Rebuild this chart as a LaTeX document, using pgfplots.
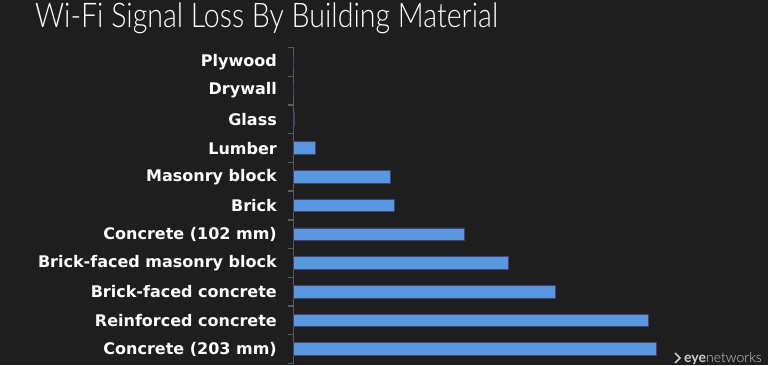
\documentclass[border=0pt]{standalone}
\usepackage{pgfplots}
\pgfplotsset{compat=1.18}
\usepackage{fontspec}
\usepackage{graphicx}
\setmainfont{DejaVu Sans}
\newfontfamily\titlefont{Lato Light}
\newfontfamily\logofont{Lato}
\definecolor{bg}{HTML}{1E1E1E}
\definecolor{barfill}{HTML}{5897E2}
\definecolor{bardraw}{HTML}{4A3F6E}
\definecolor{axisgray}{HTML}{5C5C5C}
\definecolor{logogray}{HTML}{D0D0D0}
\begin{document}
\begin{tikzpicture}
\fill[bg] (0pt,0pt) rectangle (768pt,365pt);
\node[anchor=base west, text=white, inner sep=0pt] at (35pt,337pt) {\titlefont\fontsize{34}{34}\selectfont\scalebox{0.84}[1]{Wi-Fi Signal Loss By Building Material}};
\begin{axis}[
  at={(293.5pt,1.5pt)}, anchor=south west,
  scale only axis, width=420pt, height=316pt,
  xmin=0, xmax=420, ymin=-0.5, ymax=10.5, y dir=reverse,
  axis line style={draw=none},
  xtick=\empty,
  ytick={0,1,2,3,4,5,6,7,8,9,10},
  yticklabels={Plywood, Drywall, Glass, Lumber, Masonry block, Brick, Concrete (102 mm), Brick-faced masonry block, Brick-faced concrete, Reinforced concrete, Concrete (203 mm)},
  ytick pos=left,
  major tick length=0pt,
  yticklabel style={font=\bfseries\fontsize{16}{16}\selectfont, text=white, inner sep=0pt, xshift=-16.5pt},
  clip=false,
]
\draw[axisgray, line width=1.3pt] (axis cs:0,-0.5) -- (axis cs:0,10.5);
\pgfplotsinvokeforeach{-0.5,0.5,1.5,2.5,3.5,4.5,5.5,6.5,7.5,8.5,9.5,10.5}{
  \draw[axisgray, line width=1.3pt] (axis cs:0,#1) -- ++(-5.5pt,0pt);
}
\addplot[xbar, bar width=12.5pt, fill=barfill, draw=bardraw, line width=0.8pt] coordinates {
 (0,0) (0,1) (1,2) (22,3) (97,4) (101,5) (171,6) (215,7) (262,8) (355,9) (363,10)};
\end{axis}
\draw[logogray, line width=1.6pt] (675pt,2pt) -- (680pt,7pt) -- (675pt,12pt);
\node[anchor=base west, inner sep=0pt, text=logogray] at (684pt,3pt) {\logofont\fontsize{14}{14}\selectfont\textbf{eye}{\titlefont networks}};
\end{tikzpicture}
\end{document}
